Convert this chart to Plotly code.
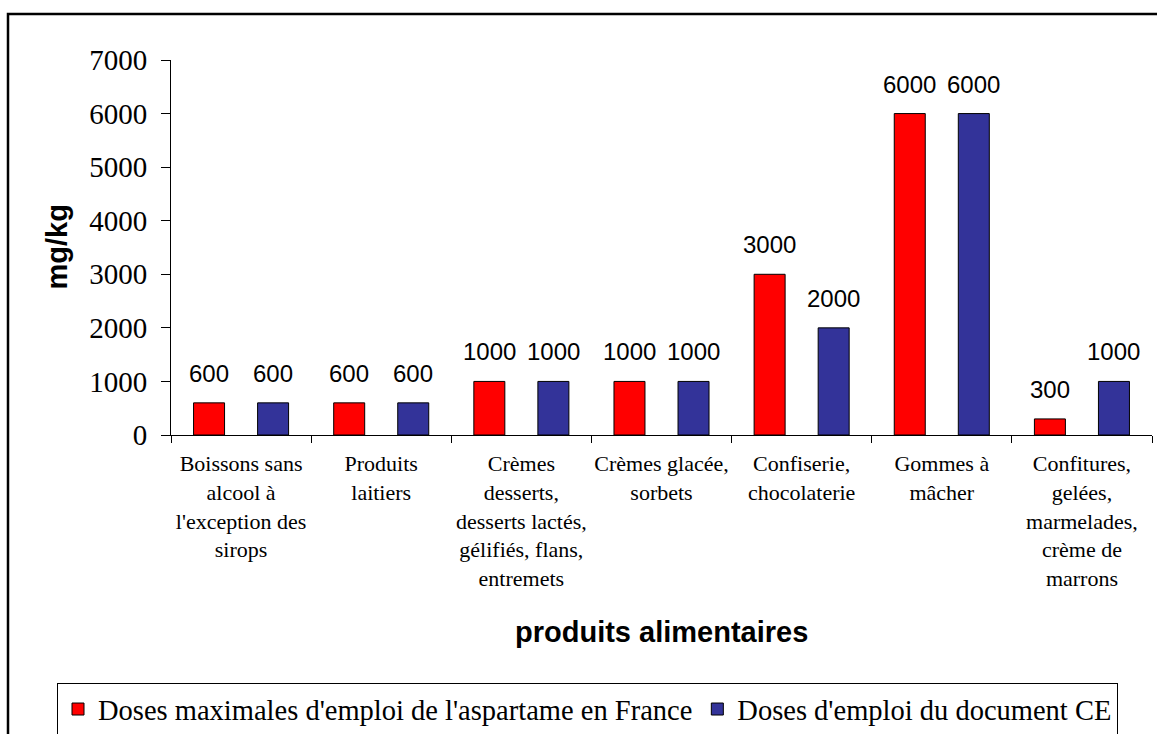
import plotly.graph_objects as go

categories = [
    "Boissons sans<br>alcool à<br>l'exception des<br>sirops",
    "Produits<br>laitiers",
    "Crèmes<br>desserts,<br>desserts lactés,<br>gélifiés, flans,<br>entremets",
    "Crèmes glacée,<br>sorbets",
    "Confiserie,<br>chocolaterie",
    "Gommes à<br>mâcher",
    "Confitures,<br>gelées,<br>marmelades,<br>crème de<br>marrons",
]
france_values = [600, 600, 1000, 1000, 3000, 6000, 300]
ce_values = [600, 600, 1000, 1000, 2000, 6000, 1000]
series_names = [
    "Doses maximales d'emploi de l'aspartame en France",
    "Doses d'emploi du document CE",
]
y_ticks = [0, 1000, 2000, 3000, 4000, 5000, 6000, 7000]

SERIF = "Liberation Serif, Times New Roman, serif"
SANS = "Liberation Sans, Arial, sans-serif"

W, H = 1157, 734
ML, MR, MT, MB = 171, 5, 60, 299
PW = W - ML - MR
PH = H - MT - MB

def px_x(px):
    return (px - ML) / PW

def px_y(py):
    return (H - MB - py) / PH

fig = go.Figure()
fig.add_trace(go.Bar(
    x=categories, y=france_values, name=series_names[0],
    marker=dict(color="#FF0000", line=dict(color="black", width=1)),
))
fig.add_trace(go.Bar(
    x=categories, y=ce_values, name=series_names[1],
    marker=dict(color="#333399", line=dict(color="black", width=1)),
))

# value labels above bars
offset = 0.2285
annotations = []
for vals, off in ((france_values, -offset), (ce_values, offset)):
    for i, v in enumerate(vals):
        annotations.append(dict(
            x=i + off, y=v, xref="x", yref="y", text=str(v), showarrow=False,
            yanchor="bottom", yshift=14,
            font=dict(family=SANS, size=24, color="black"),
        ))

# axis titles
annotations.append(dict(
    x=px_x(56), y=0.5, xref="paper", yref="paper", text="<b>mg/kg</b>",
    textangle=-90, showarrow=False, xanchor="center", yanchor="middle",
    font=dict(family=SANS, size=29, color="black"),
))
annotations.append(dict(
    x=0.5, y=px_y(632), xref="paper", yref="paper", text="<b>produits alimentaires</b>",
    showarrow=False, xanchor="center", yanchor="middle",
    font=dict(family=SANS, size=29, color="black"),
))

shapes = [dict(
    type="rect", xref="paper", yref="paper",
    x0=px_x(8), x1=px_x(1175), y0=px_y(760), y1=px_y(14),
    line=dict(color="black", width=2.5), fillcolor="rgba(0,0,0,0)", layer="below",
)]

fig.update_layout(
    width=W, height=H,
    margin=dict(l=ML, r=MR, t=MT, b=MB, autoexpand=False),
    paper_bgcolor="white", plot_bgcolor="white",
    barmode="group", bargap=0.086, bargroupgap=0.516,
    showlegend=True,
    legend=dict(
        orientation="h", x=px_x(57), xanchor="left", y=px_y(683), yanchor="top",
        bordercolor="black", borderwidth=1, bgcolor="white",
        font=dict(family=SERIF, size=28.5, color="black"),
        itemclick=False, traceorder="normal",
    ),
    annotations=annotations,
    shapes=shapes,
    xaxis=dict(
        type="category", showline=True, linecolor="black", linewidth=1,
        ticks="outside", tickson="boundaries", ticklen=7, tickcolor="black",
        showgrid=False, tickangle=0, ticklabelstandoff=9,
        tickfont=dict(family=SERIF, size=22, color="black"),
    ),
    yaxis=dict(
        range=[0, 7000], tickvals=y_ticks, showline=True, linecolor="black",
        linewidth=1, ticks="outside", ticklen=9, tickcolor="black",
        showgrid=False, zeroline=False, ticklabelstandoff=8,
        tickfont=dict(family=SERIF, size=29, color="black"),
    ),
)

fig.write_html(
    "out.html",
    config={"displayModeBar": False},
    post_script="document.body.style.margin='0';document.body.style.overflow='hidden';",
)
